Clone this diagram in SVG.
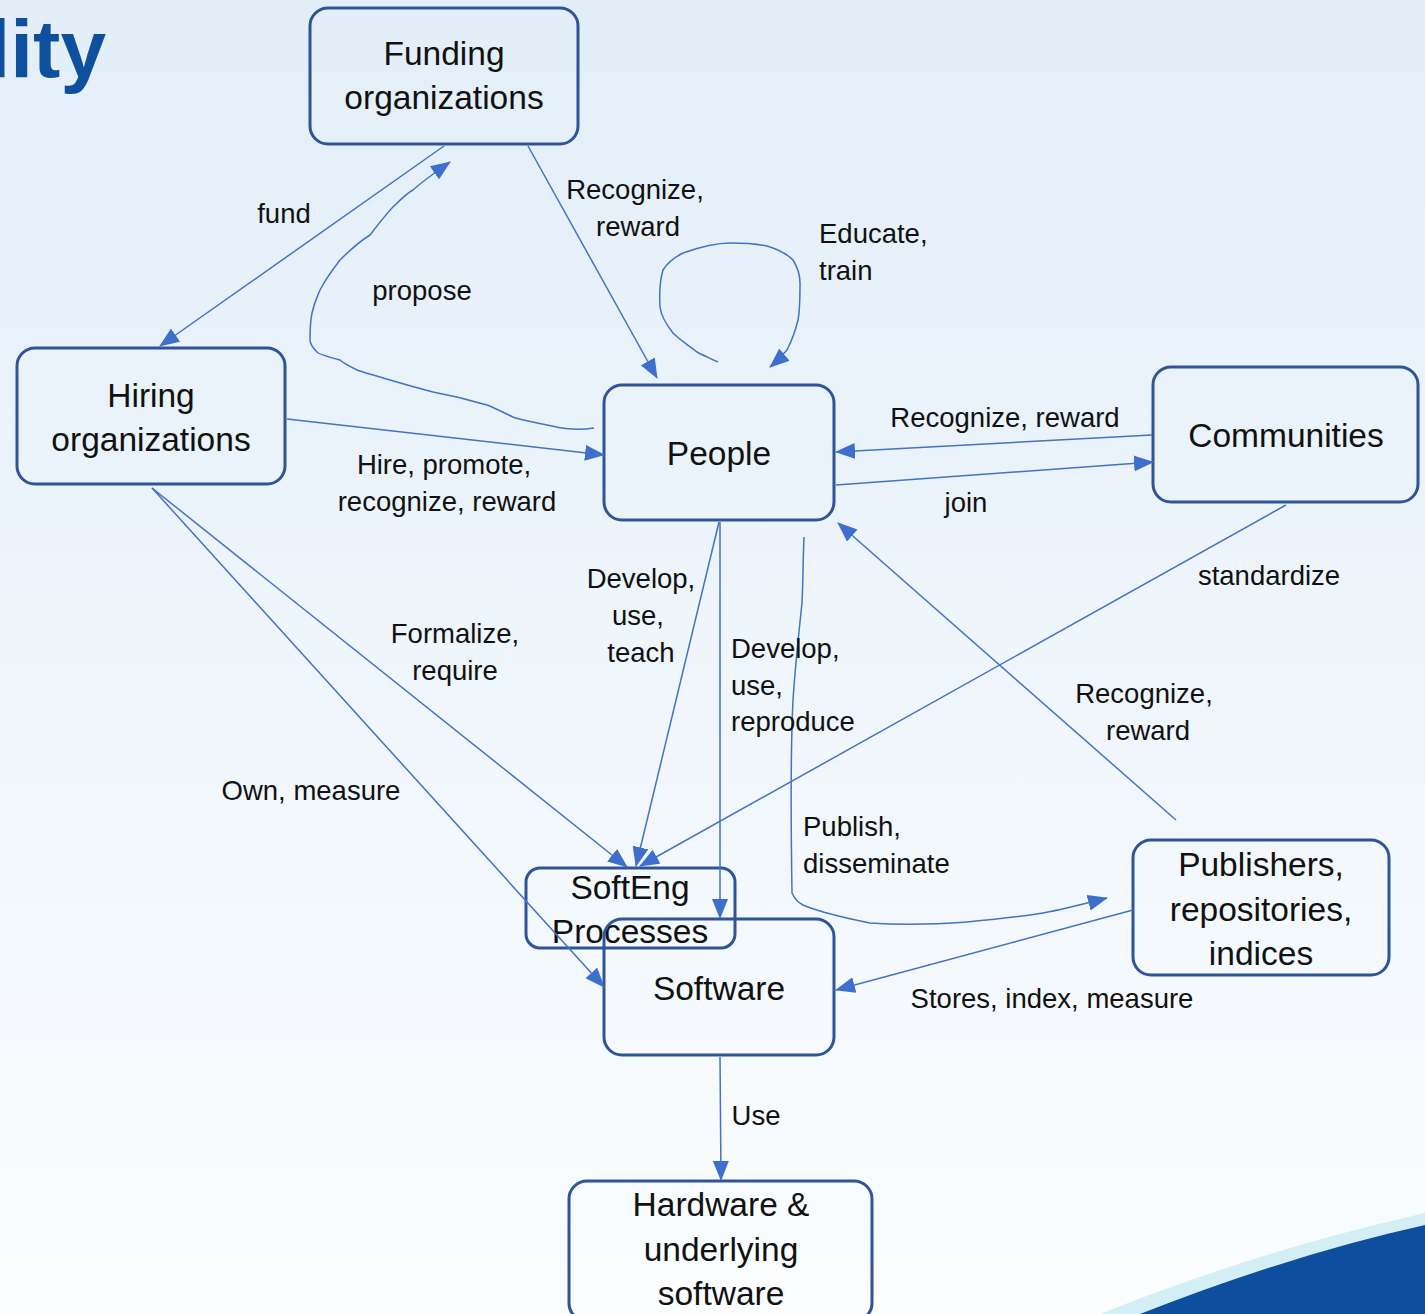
<svg xmlns="http://www.w3.org/2000/svg" width="1425" height="1314" viewBox="0 0 1425 1314">
<defs>
<linearGradient id="bg" x1="0" y1="0" x2="0" y2="1">
<stop offset="0" stop-color="#e3eef8"/>
<stop offset="0.6" stop-color="#f1f7fc"/>
<stop offset="1" stop-color="#fbfdff"/>
</linearGradient>
<marker id="ah" viewBox="0 0 20 16" refX="19" refY="8" markerWidth="20" markerHeight="16" markerUnits="userSpaceOnUse" orient="auto">
<path d="M0,0 L20,8 L0,16 Z" fill="#3f6fcc"/>
</marker>
<style>
.node rect{fill:none;stroke:#2f5597;stroke-width:3}
.node text{font-family:"Liberation Sans",Arial,sans-serif;font-size:33.5px;fill:#111;text-anchor:middle}
.conn path{fill:none;stroke:#4472c4;stroke-width:1.5;marker-end:url(#ah)}
.lbl{font-family:"Liberation Sans",Arial,sans-serif;font-size:27.5px;fill:#111}
.c{text-anchor:middle}
</style>
</defs>
<rect width="1425" height="1314" fill="url(#bg)"/>
<text x="106" y="77" text-anchor="end" font-family="Liberation Sans,Arial,sans-serif" font-weight="bold" font-size="82" fill="#0e4f9e">lity</text>
<path d="M1100,1314 Q1260,1250 1425,1213 L1425,1314 Z" fill="#d4eef6"/>
<path d="M1140,1314 Q1290,1255 1425,1225 L1425,1314 Z" fill="#0d4f9e"/>

<g id="funding" class="node"><rect x="310" y="8" width="268" height="136" rx="18"/><text x="444" y="65">Funding</text><text x="444" y="109">organizations</text></g>
<g id="hiring" class="node"><rect x="17" y="348" width="268" height="136" rx="18"/><text x="151" y="407">Hiring</text><text x="151" y="451">organizations</text></g>
<g id="people" class="node"><rect x="604" y="385" width="230" height="135" rx="18"/><text x="719" y="465">People</text></g>
<g id="communities" class="node"><rect x="1153" y="367" width="265" height="135" rx="18"/><text x="1286" y="447">Communities</text></g>
<g id="softeng" class="node"><rect x="526" y="868" width="209" height="80" rx="14"/><text x="630" y="899">SoftEng</text><text x="630" y="943">Processes</text></g>
<g id="software" class="node"><rect x="604" y="919" width="230" height="136" rx="18"/><text x="719" y="1000">Software</text></g>
<g id="publishers" class="node"><rect x="1133" y="840" width="256" height="135" rx="18"/><text x="1261" y="876">Publishers,</text><text x="1261" y="921">repositories,</text><text x="1261" y="965">indices</text></g>
<g id="hardware" class="node"><rect x="569" y="1181" width="303" height="140" rx="18"/><text x="721" y="1216">Hardware &amp;</text><text x="721" y="1261">underlying</text><text x="721" y="1305">software</text></g>

<g id="connectors" class="conn">
<path d="M444,146 L160,346"/>
<path d="M594,428 C575,431 560,428 547,425 C530,421 520,420 513,417 C500,411 495,408 487,405 C470,400 460,397 433,392 C410,386 400,383 390,380 C370,374 362,372 357,370 C345,364 342,362 340,360 C325,356 318,354 317,352 C310,345 310,342 310,340 C310,325 311,318 312,313 C315,300 318,295 320,290 C328,275 334,268 340,260 C352,248 362,240 370,235 C380,222 387,213 393,207 C400,200 407,193 413,190 C422,182 427,178 450,162"/>
<path d="M528,146 L657,378"/>
<path d="M718,362 C710,358 702,355 697,352 C688,345 680,340 673,333 C665,323 661,315 660,307 C659,290 660,280 663,270 C668,262 675,257 683,253 C700,247 715,243 730,243 C745,243 757,244 767,246 C780,250 788,255 793,260 C798,268 800,275 800,283 C800,297 800,310 798,320 C795,333 791,342 787,350 C782,356 777,361 770,367"/>
<path d="M287,419 L604,455"/>
<path d="M1152,435 L836,452"/>
<path d="M836,485 L1153,462"/>
<path d="M152,488 L627,867"/>
<path d="M152,488 L604,987"/>
<path d="M719,522 L636,866"/>
<path d="M720,522 L720,918"/>
<path d="M1286,505 L640,866"/>
<path d="M1176,820 L838,523"/>
<path d="M804,537 C803,560 803,585 802,603 C798,640 795,670 793,700 C790,760 791,830 792,893 C795,900 799,903 803,905 C812,909 820,911 827,913 C845,918 860,921 870,923 C900,925 940,924 967,922 C1000,919 1025,916 1043,913 C1060,910 1072,907 1107,898"/>
<path d="M1133,910 L836,990"/>
<path d="M720,1057 L721,1180"/>
</g>

<g id="labels" class="lbl">
<text class="c" x="284" y="223">fund</text>
<text class="c" x="422" y="300">propose</text>
<text class="c" x="635" y="199">Recognize,</text>
<text class="c" x="638" y="236">reward</text>
<text x="819" y="243">Educate,</text>
<text x="819" y="280">train</text>
<text class="c" x="1005" y="427">Recognize, reward</text>
<text class="c" x="966" y="512">join</text>
<text class="c" x="444" y="474">Hire, promote,</text>
<text class="c" x="447" y="511">recognize, reward</text>
<text class="c" x="641" y="588">Develop,</text>
<text class="c" x="638" y="625">use,</text>
<text class="c" x="641" y="662">teach</text>
<text x="731" y="658">Develop,</text>
<text x="731" y="695">use,</text>
<text x="731" y="731">reproduce</text>
<text class="c" x="455" y="643">Formalize,</text>
<text class="c" x="455" y="680">require</text>
<text class="c" x="311" y="800">Own, measure</text>
<text class="c" x="1269" y="585">standardize</text>
<text class="c" x="1144" y="703">Recognize,</text>
<text class="c" x="1148" y="740">reward</text>
<text x="803" y="836">Publish,</text>
<text x="803" y="873">disseminate</text>
<text class="c" x="1052" y="1008">Stores, index, measure</text>
<text class="c" x="756" y="1125">Use</text>
</g>
</svg>
